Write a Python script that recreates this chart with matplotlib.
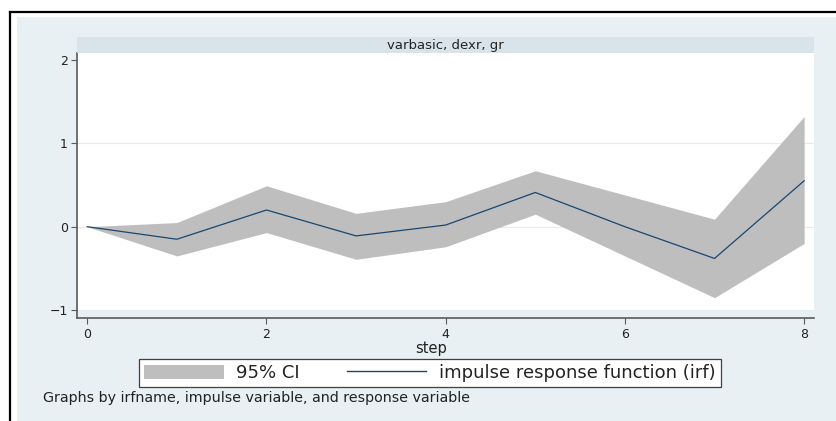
import matplotlib

matplotlib.use("Agg")
import matplotlib.pyplot as plt
from matplotlib.lines import Line2D
from matplotlib.patches import Patch, Rectangle

# irf of dexr -> gr, by step
steps = [0, 1, 2, 3, 4, 5, 6, 7, 8]
irf = [0.00, -0.15, 0.20, -0.11, 0.02, 0.41, 0.00, -0.38, 0.55]
ci_upper = [0.00, 0.05, 0.49, 0.16, 0.30, 0.67, 0.38, 0.09, 1.32]
ci_lower = [0.00, -0.35, -0.07, -0.39, -0.24, 0.15, -0.35, -0.85, -0.20]
x_ticks = [0, 2, 4, 6, 8]
y_ticks = [-1, 0, 1, 2]
panel_title = "varbasic, dexr, gr"
note = "Graphs by irfname, impulse variable, and response variable"

W, H = 837, 421
BG = "#e8f0f3"
STRIP = "#d8e4ea"
NAVY = "#1a476f"
CI_GRAY = "#bebebe"
AXIS = "#5a5a5a"

plt.rcParams["font.family"] = ["DejaVu Sans"]

fig = plt.figure(figsize=(W / 100, H / 100), dpi=100, facecolor="white")

# graph region background and the black frame of the screenshot
fig.patches.append(Rectangle((17 / W, 0), 1, 1 - 17 / H, transform=fig.transFigure,
                             facecolor=BG, edgecolor="none", zorder=-5))
fig.lines.append(Line2D([10 / W, 1], [1 - 12 / H, 1 - 12 / H], transform=fig.transFigure,
                        color="black", lw=1.6))
fig.lines.append(Line2D([10.5 / W, 10.5 / W], [0, 1 - 12 / H], transform=fig.transFigure,
                        color="black", lw=1.6))

left, right, top, bottom = 77.5, 814, 53, 318
ax = fig.add_axes([left / W, 1 - bottom / H, (right - left) / W, (bottom - top) / H])
ax.set_facecolor(BG)
ax.set_xlim(-0.109, 8.11)
ax.set_ylim(-1.093, 2.08)
ax.axhspan(-1.0, 2.08, facecolor="white", edgecolor="none", zorder=0)
ax.set_axisbelow(True)

ax.fill_between(steps, ci_lower, ci_upper, color=CI_GRAY, lw=0, zorder=2)
ax.plot(steps, irf, color=NAVY, lw=0.9, zorder=3)

ax.set_xticks(x_ticks)
ax.set_yticks(y_ticks)
ax.grid(axis="y", color="#e4ecef", lw=0.8)
ax.yaxis.get_gridlines()[-1].set_visible(False)
for side in ("top", "right"):
    ax.spines[side].set_visible(False)
for side in ("left", "bottom"):
    ax.spines[side].set_color(AXIS)
    ax.spines[side].set_linewidth(1.2)
ax.tick_params(direction="out", length=4, width=0.8, color=AXIS,
               labelsize=9, labelcolor="#222222", pad=3)

ax.set_xlabel("step", fontsize=10.5, color="#222222")
ax.xaxis.label.set_va("center")
ax.xaxis.set_label_coords((431 - left) / (right - left), -(348 - bottom) / (bottom - top))

# by-variable strip
sax = fig.add_axes([left / W, 1 - top / H, (right - left) / W, 16 / H])
sax.set_facecolor(STRIP)
sax.set_xticks([])
sax.set_yticks([])
for s in sax.spines.values():
    s.set_visible(False)
sax.text(0.5, 0.45, panel_title, ha="center", va="center", fontsize=9.5,
         color="#222222", transform=sax.transAxes)

handles = [Patch(facecolor=CI_GRAY, edgecolor="none", label="95% CI"),
           Line2D([], [], color=NAVY, lw=1.0, label="impulse response function (irf)")]
leg = fig.legend(handles=handles, loc="center", bbox_to_anchor=(430 / W, 1 - 373 / H),
                 ncol=2, frameon=True, fancybox=False, edgecolor="#404040", framealpha=1,
                 fontsize=13, handlelength=4.4, handleheight=0.85, handletextpad=0.7,
                 columnspacing=2.6, borderpad=0.3, borderaxespad=0)
leg.get_frame().set_linewidth(0.9)
for t in leg.get_texts():
    t.set_color("#222222")

fig.text(43 / W, 1 - 398 / H, note, ha="left", va="center", fontsize=10.3, color="#222222")

fig.savefig("out.png", dpi=100, facecolor="white")
